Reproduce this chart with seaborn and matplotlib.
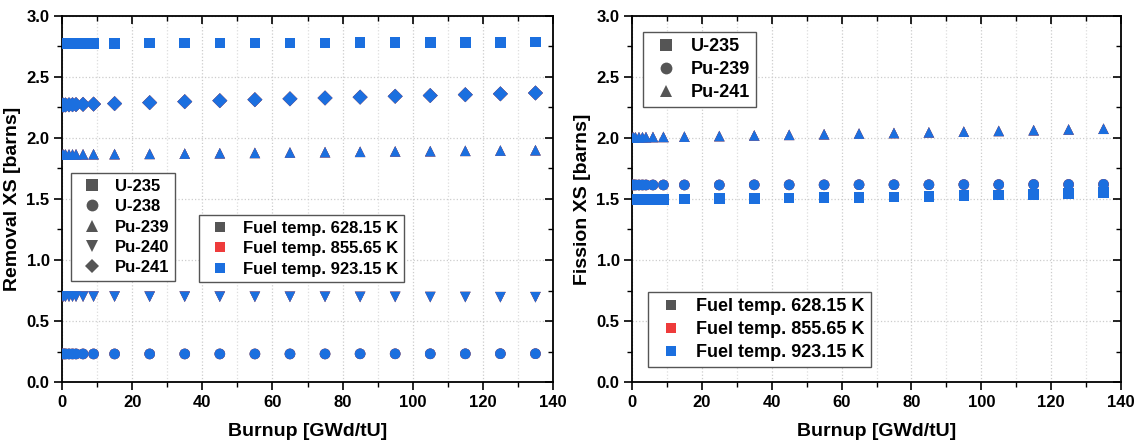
import numpy as np, pandas as pd
import matplotlib
matplotlib.use("Agg")
from matplotlib import pyplot as plt
from matplotlib.lines import Line2D
from matplotlib.ticker import MultipleLocator
import seaborn as sns

# burnup steps [GWd/tU]
burnup = [0, 0.5, 1, 2, 3, 4, 6, 9, 15, 25, 35, 45, 55, 65, 75, 85, 95, 105, 115, 125, 135]

# removal cross sections [barns]
rem_u235 = [2.775, 2.775, 2.775, 2.775, 2.775, 2.775, 2.775, 2.776, 2.776, 2.777, 2.777,
            2.778, 2.778, 2.779, 2.780, 2.781, 2.782, 2.783, 2.784, 2.785, 2.786]
rem_u238 = [0.230, 0.230, 0.230, 0.230, 0.230, 0.230, 0.230, 0.230, 0.230, 0.230, 0.230,
            0.230, 0.230, 0.230, 0.230, 0.231, 0.231, 0.231, 0.231, 0.232, 0.232]
rem_pu239 = [1.865, 1.865, 1.865, 1.865, 1.865, 1.866, 1.866, 1.867, 1.868, 1.870, 1.872,
             1.875, 1.878, 1.881, 1.884, 1.887, 1.890, 1.892, 1.895, 1.897, 1.900]
rem_pu240 = [0.700, 0.700, 0.700, 0.700, 0.700, 0.700, 0.700, 0.700, 0.700, 0.699, 0.699,
             0.699, 0.698, 0.698, 0.698, 0.697, 0.697, 0.696, 0.696, 0.695, 0.695]
rem_pu241 = [2.270, 2.270, 2.271, 2.272, 2.273, 2.274, 2.276, 2.278, 2.282, 2.290, 2.298,
             2.306, 2.314, 2.321, 2.328, 2.335, 2.342, 2.348, 2.355, 2.362, 2.369]

# fission cross sections [barns]
fis_u235 = [1.495, 1.495, 1.495, 1.495, 1.495, 1.495, 1.496, 1.497, 1.499, 1.502, 1.505,
            1.508, 1.511, 1.514, 1.518, 1.522, 1.527, 1.532, 1.538, 1.545, 1.552]
fis_pu239 = [1.615, 1.615, 1.615, 1.615, 1.615, 1.615, 1.615, 1.615, 1.615, 1.615, 1.616,
             1.616, 1.616, 1.617, 1.617, 1.617, 1.618, 1.618, 1.619, 1.619, 1.620]
fis_pu241 = [2.005, 2.005, 2.005, 2.006, 2.006, 2.007, 2.008, 2.009, 2.011, 2.016, 2.021,
             2.026, 2.031, 2.036, 2.041, 2.046, 2.052, 2.058, 2.064, 2.070, 2.076]

temps = ["Fuel temp. 628.15 K", "Fuel temp. 855.65 K", "Fuel temp. 923.15 K"]
temp_colors = ["#555555", "#ee3b3b", "#1b6fdf"]

removal = {"U-235": rem_u235, "U-238": rem_u238, "Pu-239": rem_pu239,
           "Pu-240": rem_pu240, "Pu-241": rem_pu241}
fission = {"U-235": fis_u235, "Pu-239": fis_pu239, "Pu-241": fis_pu241}


def long_df(d):
    rows = []
    for t in temps:
        for nuc, vals in d.items():
            for b, v in zip(burnup, vals):
                rows.append((t, nuc, b, v))
    return pd.DataFrame(rows, columns=["temp", "nuc", "burnup", "xs"])


rem_df = long_df(removal)
fis_df = long_df(fission)

sns.set_style("white")
plt.rcParams["font.family"] = ["Liberation Sans", "DejaVu Sans"]
plt.rcParams["font.weight"] = "bold"
plt.rcParams["text.color"] = "black"
plt.rcParams["axes.labelcolor"] = "black"
plt.rcParams["xtick.color"] = "black"
plt.rcParams["ytick.color"] = "black"

fig = plt.figure(figsize=(11.38, 4.4), dpi=100)
ax1 = fig.add_axes([62 / 1138, 58 / 440, 491 / 1138, 366 / 440])
ax2 = fig.add_axes([632 / 1138, 58 / 440, 489 / 1138, 366 / 440])

rem_markers = {"U-235": "s", "U-238": "o", "Pu-239": "^", "Pu-240": "v", "Pu-241": "D"}
fis_markers = {"U-235": "s", "Pu-239": "o", "Pu-241": "^"}
pal = dict(zip(temps, temp_colors))

for ax, df, mk in [(ax1, rem_df, rem_markers), (ax2, fis_df, fis_markers)]:
    sns.scatterplot(data=df, x="burnup", y="xs", hue="temp", style="nuc",
                    palette=pal, markers=mk, s=58, linewidth=0, ax=ax,
                    legend=False, zorder=3)
    ax.set_xlim(0, 140)
    ax.set_ylim(0, 3.0)
    ax.xaxis.set_major_locator(MultipleLocator(20))
    ax.xaxis.set_minor_locator(MultipleLocator(10))
    ax.yaxis.set_major_locator(MultipleLocator(0.5))
    ax.yaxis.set_minor_locator(MultipleLocator(0.25))
    ax.grid(True, which="major", color="#cccccc", linestyle=":", linewidth=0.9)
    ax.grid(True, which="minor", axis="x", color="#dddddd", linestyle=":", linewidth=0.9)
    ax.tick_params(which="major", direction="out", length=6, width=1.2,
                   labelsize=12, bottom=True, left=True, pad=3)
    ax.tick_params(which="minor", direction="out", length=3.5, width=1.0,
                   bottom=True, left=True)
    for lab in ax.get_xticklabels() + ax.get_yticklabels():
        lab.set_fontweight("bold")
    for sp in ax.spines.values():
        sp.set_color("black")
        sp.set_linewidth(1.3)
    ax.set_xlabel("Burnup [GWd/tU]", fontsize=14, fontweight="bold", labelpad=10)

# inward ticks on the top and right spines
for ax in (ax1, ax2):
    ax.tick_params(which="both", top=True, right=True)
    for t in ax.xaxis.get_major_ticks() + ax.xaxis.get_minor_ticks():
        t.tick2line.set_marker(3)
    for t in ax.yaxis.get_major_ticks() + ax.yaxis.get_minor_ticks():
        t.tick2line.set_marker(0)

ax1.set_ylabel("Removal XS [barns]", fontsize=14, fontweight="bold", labelpad=4)
ax2.set_ylabel("Fission XS [barns]", fontsize=14, fontweight="bold", labelpad=4)


def legend_kw(size):
    return dict(frameon=True, fancybox=False, edgecolor="#555555", framealpha=1,
                borderpad=0.35, borderaxespad=0, labelspacing=0.32,
                handlelength=1.8, handletextpad=0.5,
                prop={"weight": "bold", "size": size})


def nuc_handles(mk):
    return [Line2D([], [], linestyle="", marker=m, color="#555555",
                   markersize=7.5 if m == "D" else 8.5,
                   markeredgewidth=0, label=n) for n, m in mk.items()]


temp_handles = [Line2D([], [], linestyle="", marker="s", color=c, markersize=7,
                       markeredgewidth=0, label=t) for t, c in zip(temps, temp_colors)]

l1 = ax1.legend(handles=nuc_handles(rem_markers), loc="upper left",
                bbox_to_anchor=(0.018, 0.571), **legend_kw(12))
ax1.add_artist(l1)
ax1.legend(handles=temp_handles, loc="upper left", bbox_to_anchor=(0.279, 0.456),
           **legend_kw(12))

l2 = ax2.legend(handles=nuc_handles(fis_markers), loc="upper left",
                bbox_to_anchor=(0.0225, 0.956), **legend_kw(13))
ax2.add_artist(l2)
ax2.legend(handles=temp_handles, loc="upper left", bbox_to_anchor=(0.033, 0.246),
           **legend_kw(13))

fig.savefig("out.png", dpi=100)
